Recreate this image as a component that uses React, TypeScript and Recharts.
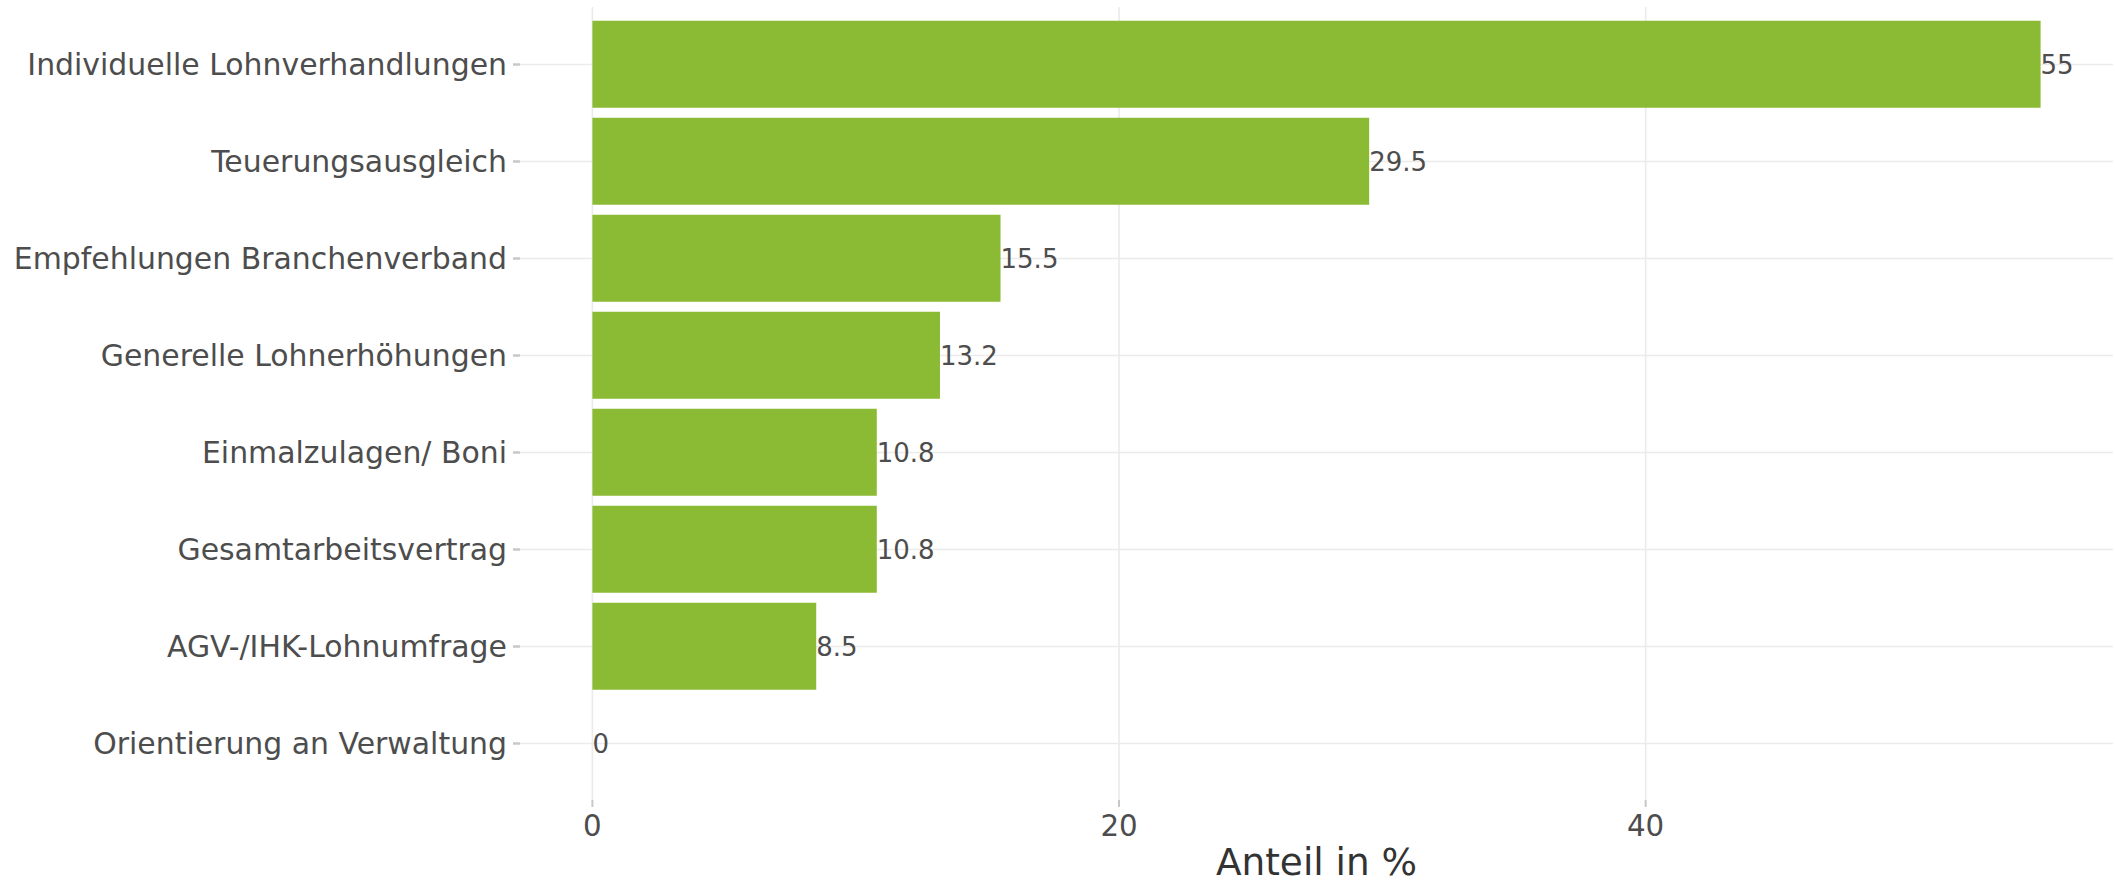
import React from "react";
import { BarChart, Bar, XAxis, YAxis, CartesianGrid, LabelList, Label } from "recharts";

const categories = [
  "Individuelle Lohnverhandlungen",
  "Teuerungsausgleich",
  "Empfehlungen Branchenverband",
  "Generelle Lohnerhöhungen",
  "Einmalzulagen/ Boni",
  "Gesamtarbeitsvertrag",
  "AGV-/IHK-Lohnumfrage",
  "Orientierung an Verwaltung",
];
const values = [55, 29.5, 15.5, 13.2, 10.8, 10.8, 8.5, 0];
const xTicks = [0, 20, 40];
const xTitle = "Anteil in %";

const data = categories.map((c, i) => ({ cat: c, value: values[i] }));

const FONT = "'DejaVu Sans', sans-serif";

const ValueLabel = (props: any) => {
  const { x, y, width, height, value } = props;
  if (x == null || y == null) return null;
  return (
    <text
      x={Number(x) + Number(width || 0)}
      y={Number(y) + Number(height || 0) / 2}
      dy="0.355em"
      textAnchor="start"
      fill="#4d4d4d"
      fontSize={26}
      fontFamily={FONT}
    >
      {String(value)}
    </text>
  );
};

export default function App() {
  return (
    <div style={{ position: "absolute", left: 0, top: 0, background: "#fff" }}>
      <BarChart
        width={2115}
        height={883}
        data={data}
        layout="vertical"
        margin={{ top: 7, right: 2, bottom: 0, left: 0 }}
        barCategoryGap="5%"
        style={{ fontFamily: FONT }}
      >
        <CartesianGrid stroke="#ebebeb" strokeWidth={1.6} syncWithTicks />
        <XAxis
          type="number"
          domain={[-2.75, 57.75]}
          ticks={xTicks}
          allowDataOverflow
          height={83}
          axisLine={false}
          tickLine={{ stroke: "#c8c8c8", strokeWidth: 2 }}
          tickSize={7}
          tickMargin={8}
          tick={{ fill: "#4d4d4d", fontSize: 29.3, fontFamily: FONT }}
        >
          <Label
            value={xTitle}
            position="insideBottom"
            offset={8}
            style={{ fill: "#333333", fontSize: 37.4, fontFamily: FONT }}
          />
        </XAxis>
        <YAxis
          type="category"
          dataKey="cat"
          width={520}
          padding={{ top: 9, bottom: 8 }}
          axisLine={false}
          tickLine={{ stroke: "#c8c8c8", strokeWidth: 2.5 }}
          tickSize={7}
          tickMargin={6}
          interval={0}
          tick={{ fill: "#4d4d4d", fontSize: 29.9, fontFamily: FONT }}
        />
        <Bar
          dataKey="value"
          fill="#8bba34"
          isAnimationActive={false}
          minPointSize={(v: any) => (Number(v) === 0 ? 0.01 : 0)}
        >
          <LabelList dataKey="value" content={ValueLabel} />
        </Bar>
      </BarChart>
    </div>
  );
}
